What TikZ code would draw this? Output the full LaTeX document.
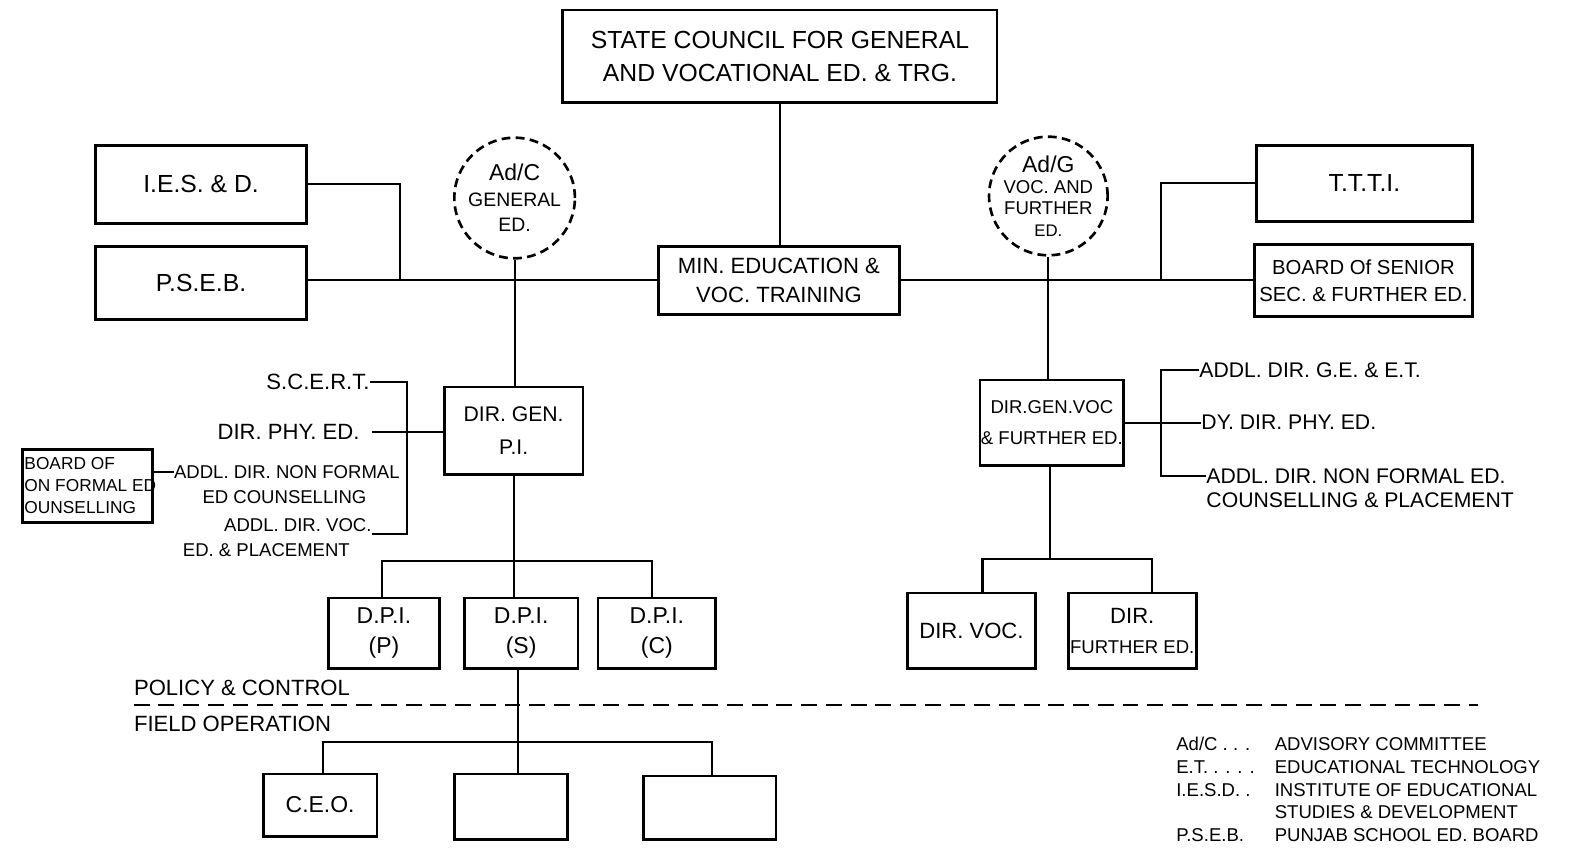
\documentclass[tikz,border=0pt]{standalone}
\usepackage{fontspec}
\setmainfont{Liberation Sans}
\usetikzlibrary{calc}
\newcommand\fsz[2]{\fontsize{#1}{#2}\selectfont}
\newcommand\bx[7][]{\node[box,#1,minimum width={(#5-#3)*0.02cm},minimum height={(#6-#4)*0.02cm}] (#2) at ({(#3+#5)/2},{(#4+#6)/2}) {#7};}
\begin{document}
\begin{tikzpicture}[x=0.02cm,y=-0.02cm,
 box/.style={draw,line width=1.6pt,align=center,inner sep=0pt},
 adc/.style={draw,circle,line width=1.5pt,dash pattern=on 5pt off 3pt,inner sep=0pt},
 ln/.style={line width=1.15pt},
 txt/.style={inner sep=0pt,align=center}]
\useasboundingbox (0,0) rectangle (1568,848);

% top level
\bx[font=\fsz{14}{19}]{council}{560}{10}{992}{102}{STATE COUNCIL FOR GENERAL\\AND VOCATIONAL ED. \& TRG.}
\bx[font=\fsz{12.5}{16.5}]{min}{655}{245}{895}{313}{MIN. EDUCATION \&\\VOC. TRAINING}
\bx[font=\fsz{14}{17}]{iesd}{95}{145}{305}{222}{I.E.S. \& D.}
\bx[font=\fsz{14}{17}]{pseb}{95}{245}{305}{318}{P.S.E.B.}
\bx[font=\fsz{14}{17}]{ttti}{1250}{145}{1465}{220}{T.T.T.I.}
\bx[font=\fsz{11.5}{15.3}]{bss}{1248}{243}{1465}{315}{BOARD Of SENIOR\\SEC. \& FURTHER ED.}

\node[adc,minimum size=2.4cm] (acg) at (512,197) {};
\node[txt,font=\fsz{11}{14.5}] (acgt) at (acg) {{\fsz{13}{15}Ad/C}\\GENERAL\\ED.};
\node[adc,minimum size=2.36cm] (acv) at (1043,195) {};
\node[txt,font=\fsz{10.5}{12}] (acvt) at (acv) {{\fsz{13}{15}Ad/G}\\VOC. AND\\FURTHER\\{\fsz{9.5}{11}ED.}};

\coordinate (jl) at (398,279);
\coordinate (jr) at (1155,279);
\draw[ln] (council.south) -- (council.south |- min.north);
\draw[ln] (min.west) -- (min.west -| pseb.east);
\draw[ln] (min.east) -- (min.east -| bss.west);
\draw[ln] (iesd.east) -| (jl);
\draw[ln] (ttti.west) -| (jr);

% left branch
\bx[font=\fsz{12}{18.7}]{dgpi}{442}{385}{580}{472}{DIR. GEN.\\P.I.}
\draw[ln] (acg.south) -- (acg.south |- dgpi.north);

\node[txt,anchor=east,font=\fsz{12.5}{15}] (scert) at (368,380) {S.C.E.R.T.};
\node[txt,anchor=east,font=\fsz{12.5}{15}] (dpe) at (358,430) {DIR. PHY. ED.};
\node[txt,anchor=east,font=\fsz{10.5}{13}] (a1) at (398,470) {ADDL. DIR. NON FORMAL};
\node[txt,font=\fsz{10.5}{13}] (a2) at (283,495) {ED COUNSELLING};
\node[txt,anchor=east,font=\fsz{10.5}{13}] (a3) at (370,522) {ADDL. DIR. VOC.};
\node[txt,font=\fsz{10.5}{13}] (a4) at (265,547) {ED. \& PLACEMENT};
\coordinate (lbt) at (405,380);
\coordinate (lbb) at (405,531);
\draw[ln] (scert.east) -- (lbt) -- (lbb) -- (lbb -| a3.east);
\draw[ln] ([xshift=0.24cm]dpe.east) -- (dpe.east -| dgpi.west);

\bx{bnf}{22}{447}{152}{520}{}
\node[txt,anchor=west,align=left,font=\fsz{9.8}{12.5}] (bnft) at (24,483) {BOARD OF\\ON FORMAL ED\\OUNSELLING};
\draw[ln] (bnf.east |- a1.west) -- (a1.west);

\bx[font=\fsz{13}{17}]{dpip}{327}{595}{437}{665}{D.P.I.\\(P)}
\bx[font=\fsz{13}{17}]{dpis}{462}{595}{575}{665}{D.P.I.\\(S)}
\bx[font=\fsz{13}{17}]{dpic}{595}{595}{712}{665}{D.P.I.\\(C)}
\coordinate (j1) at (512,558);
\draw[ln] (dgpi.south) -- (dgpi.south |- dpis.north);
\draw[ln] ($(dpip.north)+(-2,0)$) |- (j1) -| ($(dpic.north)+(-5,0)$);

\node[txt,anchor=west,font=\fsz{12.5}{15}] (pol) at (133,684) {POLICY \& CONTROL};
\node[txt,anchor=west,font=\fsz{12.5}{15}] (fop) at (133,720) {FIELD OPERATION};
\coordinate (dl) at (133,701);
\coordinate (dr) at (1470,701);
\draw[line width=1.1pt,dash pattern=on 9pt off 5pt] (dl) -- (dr);

\bx[font=\fsz{13}{17}]{ceo}{262}{770}{375}{832}{C.E.O.}
\bx{f2}{452}{770}{565}{835}{}
\bx{f3}{640}{772}{772}{835}{}
\coordinate (j2) at (515,738);
\draw[ln] (j2 |- dpis.south) -- (j2);
\draw[ln] ($(ceo.north)+(3,0)$) |- (j2) -| ($(f3.north)+(2,0)$);
\draw[ln] (j2) -- (j2 |- f2.north);

% right branch
\bx[font=\fsz{10.5}{18}]{dgv}{975}{378}{1118}{463}{DIR.GEN.VOC\\\& FURTHER ED.}
\draw[ln] (acv.south) -- (acv.south |- dgv.north);
\node[txt,anchor=west,font=\fsz{12}{14}] (g1) at (1193,368) {ADDL. DIR. G.E. \& E.T.};
\node[txt,anchor=west,font=\fsz{12}{14}] (g2) at (1195,420) {DY. DIR. PHY. ED.};
\node[txt,anchor=north west,align=left,font=\fsz{12}{13.6}] (g3) at (1200,466) {ADDL. DIR. NON FORMAL ED.\\COUNSELLING \& PLACEMENT};
\coordinate (rbt) at (1155,368);
\coordinate (rbb) at (1155,474);
\draw[ln] (g1.west) -- (rbt) -- (rbb) -- (rbb -| g3.west);
\draw[ln] (dgv.east) -- (dgv.east -| g2.west);

\bx[font=\fsz{12.5}{17}]{dvoc}{903}{590}{1030}{665}{DIR. VOC.}
\bx[font=\fsz{10.5}{17}]{dfur}{1063}{590}{1190}{665}{{\fsz{12.5}{15}DIR.}\\FURTHER ED.}
\coordinate (j3) at (1045,556);
\draw[ln] (j3 |- dgv.south) -- (j3);
\draw[ln] ($(dvoc.north)+(11,0)$) |- (j3) -| ($(dfur.north)+(20,0)$);

% legend
\node[txt,anchor=north west,font=\fsz{10.5}{12.8}] (legend) at (1170,731) {%
\begin{tabular}{@{}p{1.96cm}@{}l@{}}
Ad/C . . . & ADVISORY COMMITTEE\\
E.T. . . . . & EDUCATIONAL TECHNOLOGY\\
I.E.S.D. . & INSTITUTE OF EDUCATIONAL\\
 & STUDIES \& DEVELOPMENT\\
P.S.E.B. & PUNJAB SCHOOL ED. BOARD
\end{tabular}};
\end{tikzpicture}
\end{document}
